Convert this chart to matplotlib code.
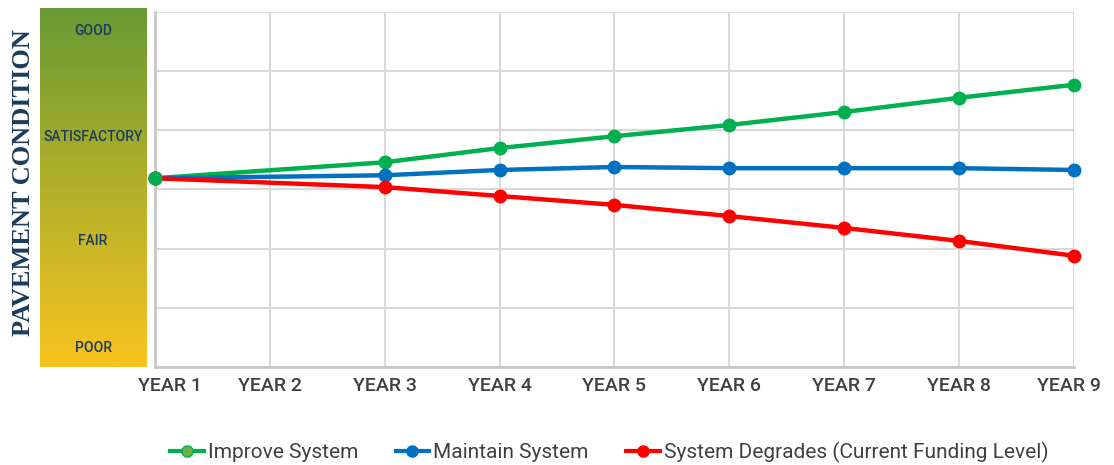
import numpy as np
import matplotlib.pyplot as plt
from matplotlib.colors import LinearSegmentedColormap
from matplotlib.lines import Line2D
from matplotlib.transforms import ScaledTranslation

# condition index: 0 = worst, 6 = best (grid rows)
years = [1, 3, 4, 5, 6, 7, 8, 9]
year_labels = ["YEAR 1", "YEAR 2", "YEAR 3", "YEAR 4", "YEAR 5",
               "YEAR 6", "YEAR 7", "YEAR 8", "YEAR 9"]
improve = [3.19, 3.46, 3.70, 3.90, 4.09, 4.31, 4.55, 4.77]
maintain = [3.19, 3.24, 3.33, 3.38, 3.36, 3.36, 3.36, 3.33]
degrade = [3.19, 3.04, 2.89, 2.74, 2.55, 2.35, 2.13, 1.88]
condition_labels = ["GOOD", "SATISFACTORY", "FAIR", "POOR"]
condition_pos = [5.62, 3.85, 2.10, 0.31]

GREEN = "#00b050"
BLUE = "#0070c0"
RED = "#ff0000"
NAVY = "#1d3b5c"
sans = ["Roboto", "DejaVu Sans"]

fig = plt.figure(figsize=(11.14, 4.65), dpi=100)

# colour scale bar on the left
cax = fig.add_axes([0.0359, 0.2108, 0.0952, 0.772])
cmap = LinearSegmentedColormap.from_list("cond", ["#f8c41f", "#b3b02a", "#689a34"])
grad = np.linspace(0, 1, 256).reshape(-1, 1)
cax.imshow(grad, cmap=cmap, aspect="auto", origin="lower", extent=[0, 1, 0, 6])
cax.set_xlim(0, 1)
cax.set_ylim(0, 6)
for lab, pos in zip(condition_labels, condition_pos):
    cax.text(0.5, pos, lab, ha="center", va="center", fontsize=10,
             color=NAVY, family=sans, fontweight="medium")
cax.axis("off")

fig.text(0.021, 0.607, "PAVEMENT CONDITION", rotation=90, ha="center", va="center",
         fontsize=19, fontweight="bold", color=NAVY, family="Liberation Serif")

ax = fig.add_axes([0.1391, 0.2108, 0.825, 0.7634])
ax.plot(years, improve, color=GREEN, lw=3.2, marker="o", ms=9, clip_on=False, zorder=3)
ax.plot(years, maintain, color=BLUE, lw=3.2, marker="o", ms=9, clip_on=False, zorder=3)
ax.plot(years, degrade, color=RED, lw=3.2, marker="o", ms=9, clip_on=False, zorder=3)
# the shared starting point sits on top
ax.plot(years[0], improve[0], "o", color=GREEN, ms=9, clip_on=False, zorder=4)

ax.set_xlim(1, 9)
ax.set_ylim(0, 6)
ax.set_xticks(range(1, 10))
ax.set_xticklabels(year_labels, family=sans, fontsize=14, color="#404040",
                   fontweight="medium")
ax.set_yticks(range(0, 7))
ax.set_yticklabels([])
ax.tick_params(axis="x", length=0, pad=7)
ax.tick_params(axis="y", length=0)
ax.grid(True, color="#d9d9d9", lw=1.5)
ax.set_axisbelow(True)
for side in ["top", "right"]:
    ax.spines[side].set_visible(False)
for side in ["left", "bottom"]:
    ax.spines[side].set_color("#c8c8c8")
    ax.spines[side].set_linewidth(2)

# nudge the end labels inward
xl = ax.get_xticklabels()
xl[0].set_transform(xl[0].get_transform() + ScaledTranslation(0.15, 0, fig.dpi_scale_trans))
xl[-1].set_transform(xl[-1].get_transform() + ScaledTranslation(-0.05, 0, fig.dpi_scale_trans))

handles = [
    Line2D([], [], color=GREEN, lw=3, marker="o", ms=8, mfc="#6cae48", mec=GREEN),
    Line2D([], [], color=BLUE, lw=3, marker="o", ms=8),
    Line2D([], [], color=RED, lw=3, marker="o", ms=8),
]
labels = ["Improve System", "Maintain System", "System Degrades (Current Funding Level)"]
fig.legend(handles, labels, loc="center", bbox_to_anchor=(0.547, 0.028), ncol=3,
           frameon=False, prop={"family": sans, "size": 15}, handlelength=1.6,
           handletextpad=0.2, columnspacing=1.8, labelcolor="#404040")

fig.savefig("out.png", dpi=100)
